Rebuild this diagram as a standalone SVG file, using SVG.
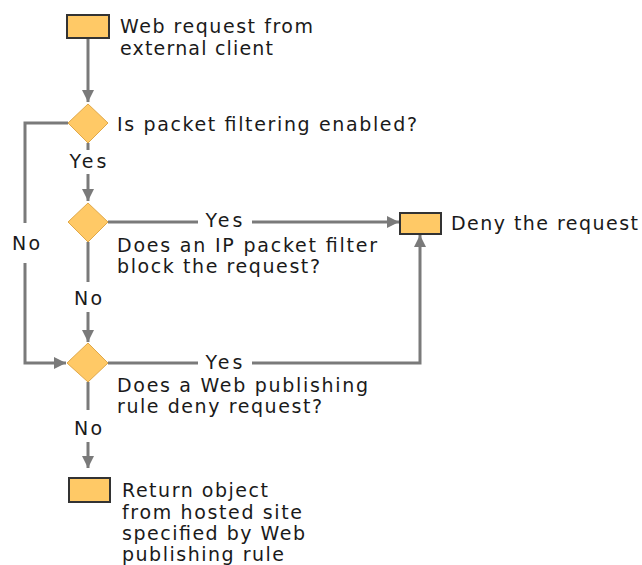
<svg xmlns="http://www.w3.org/2000/svg" width="642" height="565" viewBox="0 0 642 565">
<defs>
<marker id="arr" markerUnits="userSpaceOnUse" markerWidth="12" markerHeight="12" viewBox="0 0 12 12" refX="12" refY="6" orient="auto">
<path d="M0,0 L12,6 L0,12 Z" fill="#7a7a7a"/>
</marker>
</defs>
<style>
.box{fill:#FFC966;stroke:#333333;stroke-width:2}
.dia{fill:#FFC966;stroke:#E0A848;stroke-width:1}
.ln{fill:none;stroke:#7a7a7a;stroke-width:3}
.t{font-family:"DejaVu Sans",Verdana,sans-serif;font-size:19px;fill:#1a1a1a}
.c{text-anchor:middle}
</style>
<rect width="642" height="565" fill="#ffffff"/>
<g id="connectors">
<path class="ln" d="M88,38 V102" marker-end="url(#arr)"/>
<path class="ln" d="M88,143 V150"/>
<path class="ln" d="M88,174 V201" marker-end="url(#arr)"/>
<path class="ln" d="M68,123 H25 V223"/>
<path class="ln" d="M25,263 V363 H66" marker-end="url(#arr)"/>
<path class="ln" d="M108,222 H198"/>
<path class="ln" d="M252,222 H399" marker-end="url(#arr)"/>
<path class="ln" d="M88,242 V282"/>
<path class="ln" d="M88,312 V342" marker-end="url(#arr)"/>
<path class="ln" d="M108,363 H198"/>
<path class="ln" d="M252,363 H420 V235" marker-end="url(#arr)"/>
<path class="ln" d="M88,382 V410"/>
<path class="ln" d="M88,442 V468" marker-end="url(#arr)"/>
<text class="t c" x="88" y="168" textLength="37" lengthAdjust="spacing">Yes</text>
<text class="t c" x="26" y="250" textLength="28" lengthAdjust="spacing">No</text>
<text class="t c" x="224" y="227" textLength="37" lengthAdjust="spacing">Yes</text>
<text class="t c" x="88" y="305" textLength="28" lengthAdjust="spacing">No</text>
<text class="t c" x="224" y="369" textLength="37" lengthAdjust="spacing">Yes</text>
<text class="t c" x="88" y="435" textLength="28" lengthAdjust="spacing">No</text>
</g>
<g id="start">
<rect class="box" x="67" y="15" width="42" height="23"/>
<text class="t" x="120" y="33" textLength="193" lengthAdjust="spacing">Web request from</text>
<text class="t" x="120" y="55" textLength="153" lengthAdjust="spacing">external client</text>
</g>
<g id="decision1">
<polygon class="dia" points="88,104 108,123 88,143 68,123"/>
<text class="t" x="117" y="131" textLength="300" lengthAdjust="spacing">Is packet filtering enabled?</text>
</g>
<g id="decision2">
<polygon class="dia" points="88,203 108,222 88,242 68,222"/>
<text class="t" x="117" y="252" textLength="260" lengthAdjust="spacing">Does an IP packet filter</text>
<text class="t" x="117" y="273" textLength="203" lengthAdjust="spacing">block the request?</text>
</g>
<g id="deny">
<rect class="box" x="400" y="213" width="41" height="21"/>
<text class="t" x="451" y="230" textLength="187" lengthAdjust="spacing">Deny the request</text>
</g>
<g id="decision3">
<polygon class="dia" points="88,343 108,363 88,382 67,363"/>
<text class="t" x="117" y="392" textLength="251" lengthAdjust="spacing">Does a Web publishing</text>
<text class="t" x="117" y="413" textLength="205" lengthAdjust="spacing">rule deny request?</text>
</g>
<g id="return">
<rect class="box" x="69" y="478" width="41" height="24"/>
<text class="t" x="122" y="497" textLength="146" lengthAdjust="spacing">Return object</text>
<text class="t" x="122" y="518.5" textLength="180" lengthAdjust="spacing">from hosted site</text>
<text class="t" x="122" y="540" textLength="183" lengthAdjust="spacing">specified by Web</text>
<text class="t" x="122" y="561" textLength="162" lengthAdjust="spacing">publishing rule</text>
</g>
</svg>
